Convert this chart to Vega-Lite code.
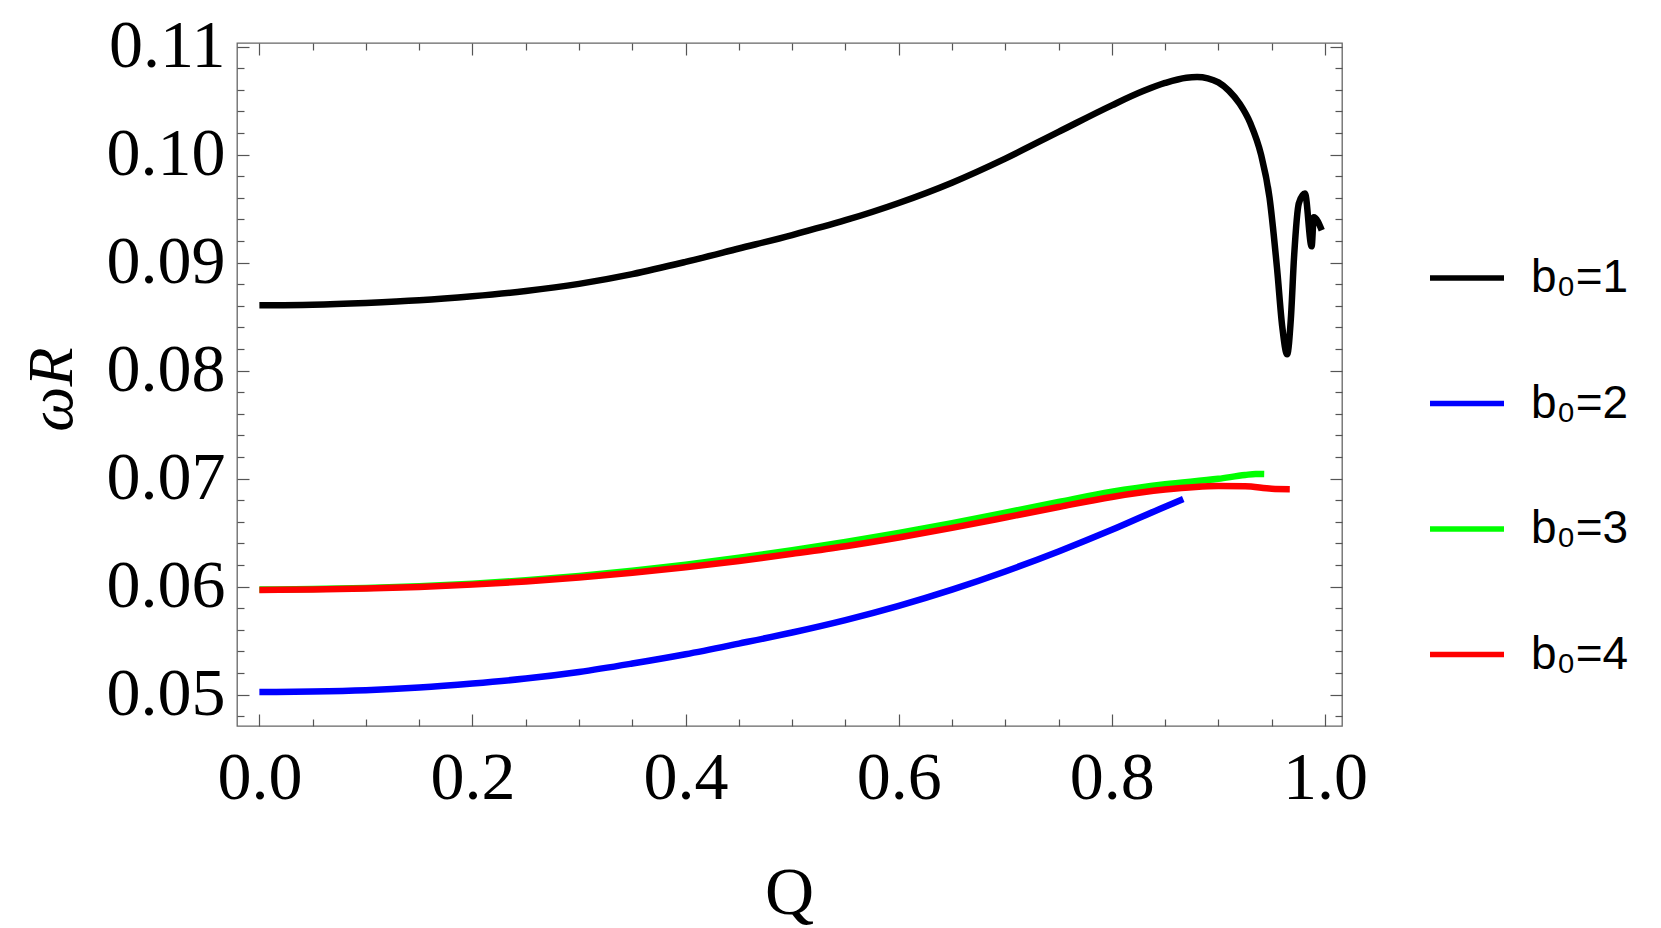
{
  "$schema": "https://vega.github.io/schema/vega-lite/v6.json",
  "width": 1105,
  "height": 683,
  "autosize": {"type": "none"},
  "padding": {"left": 237, "top": 43, "right": 319, "bottom": 202},
  "background": "white",
  "config": {"view": {"stroke": "#666666", "strokeWidth": 1.3}},
  "data": {
    "values": [
      {"series": "b₀=1", "Q": 0, "w": 0.08605},
      {"series": "b₀=1", "Q": 0.05, "w": 0.0861},
      {"series": "b₀=1", "Q": 0.1, "w": 0.08626},
      {"series": "b₀=1", "Q": 0.15, "w": 0.0865},
      {"series": "b₀=1", "Q": 0.2, "w": 0.08688},
      {"series": "b₀=1", "Q": 0.25, "w": 0.08737},
      {"series": "b₀=1", "Q": 0.3, "w": 0.08803},
      {"series": "b₀=1", "Q": 0.35, "w": 0.08893},
      {"series": "b₀=1", "Q": 0.4, "w": 0.09006},
      {"series": "b₀=1", "Q": 0.45, "w": 0.0913},
      {"series": "b₀=1", "Q": 0.5, "w": 0.09255},
      {"series": "b₀=1", "Q": 0.55, "w": 0.09392},
      {"series": "b₀=1", "Q": 0.6, "w": 0.09552},
      {"series": "b₀=1", "Q": 0.65, "w": 0.0974},
      {"series": "b₀=1", "Q": 0.7, "w": 0.09963},
      {"series": "b₀=1", "Q": 0.75, "w": 0.1021},
      {"series": "b₀=1", "Q": 0.8, "w": 0.10456},
      {"series": "b₀=1", "Q": 0.83, "w": 0.1059},
      {"series": "b₀=1", "Q": 0.85, "w": 0.10663},
      {"series": "b₀=1", "Q": 0.87, "w": 0.10712},
      {"series": "b₀=1", "Q": 0.88, "w": 0.10718},
      {"series": "b₀=1", "Q": 0.89, "w": 0.10706},
      {"series": "b₀=1", "Q": 0.9, "w": 0.10668},
      {"series": "b₀=1", "Q": 0.91, "w": 0.1059},
      {"series": "b₀=1", "Q": 0.92, "w": 0.1047},
      {"series": "b₀=1", "Q": 0.93, "w": 0.1029},
      {"series": "b₀=1", "Q": 0.94, "w": 0.1},
      {"series": "b₀=1", "Q": 0.948, "w": 0.096},
      {"series": "b₀=1", "Q": 0.955, "w": 0.0895},
      {"series": "b₀=1", "Q": 0.96, "w": 0.084},
      {"series": "b₀=1", "Q": 0.9645, "w": 0.0815},
      {"series": "b₀=1", "Q": 0.968, "w": 0.0848},
      {"series": "b₀=1", "Q": 0.971, "w": 0.0905},
      {"series": "b₀=1", "Q": 0.9755, "w": 0.0955},
      {"series": "b₀=1", "Q": 0.9812, "w": 0.0964},
      {"series": "b₀=1", "Q": 0.9875, "w": 0.0915},
      {"series": "b₀=1", "Q": 0.9895, "w": 0.0942},
      {"series": "b₀=1", "Q": 0.997, "w": 0.093},
      {"series": "b₀=2", "Q": 0, "w": 0.05024},
      {"series": "b₀=2", "Q": 0.05, "w": 0.05028},
      {"series": "b₀=2", "Q": 0.1, "w": 0.0504},
      {"series": "b₀=2", "Q": 0.15, "w": 0.05065},
      {"series": "b₀=2", "Q": 0.2, "w": 0.05102},
      {"series": "b₀=2", "Q": 0.25, "w": 0.05148},
      {"series": "b₀=2", "Q": 0.3, "w": 0.05209},
      {"series": "b₀=2", "Q": 0.35, "w": 0.05287},
      {"series": "b₀=2", "Q": 0.4, "w": 0.05373},
      {"series": "b₀=2", "Q": 0.45, "w": 0.05472},
      {"series": "b₀=2", "Q": 0.5, "w": 0.05575},
      {"series": "b₀=2", "Q": 0.55, "w": 0.0569},
      {"series": "b₀=2", "Q": 0.6, "w": 0.05822},
      {"series": "b₀=2", "Q": 0.65, "w": 0.05972},
      {"series": "b₀=2", "Q": 0.7, "w": 0.0614},
      {"series": "b₀=2", "Q": 0.75, "w": 0.06325},
      {"series": "b₀=2", "Q": 0.8, "w": 0.06525},
      {"series": "b₀=2", "Q": 0.85, "w": 0.0674},
      {"series": "b₀=2", "Q": 0.867, "w": 0.0681},
      {"series": "b₀=3", "Q": 0, "w": 0.05973},
      {"series": "b₀=3", "Q": 0.05, "w": 0.05977},
      {"series": "b₀=3", "Q": 0.1, "w": 0.05987},
      {"series": "b₀=3", "Q": 0.15, "w": 0.06004},
      {"series": "b₀=3", "Q": 0.2, "w": 0.06027},
      {"series": "b₀=3", "Q": 0.25, "w": 0.06058},
      {"series": "b₀=3", "Q": 0.3, "w": 0.06098},
      {"series": "b₀=3", "Q": 0.35, "w": 0.06147},
      {"series": "b₀=3", "Q": 0.4, "w": 0.06202},
      {"series": "b₀=3", "Q": 0.45, "w": 0.06266},
      {"series": "b₀=3", "Q": 0.5, "w": 0.06336},
      {"series": "b₀=3", "Q": 0.55, "w": 0.06413},
      {"series": "b₀=3", "Q": 0.6, "w": 0.06497},
      {"series": "b₀=3", "Q": 0.65, "w": 0.06587},
      {"series": "b₀=3", "Q": 0.7, "w": 0.06684},
      {"series": "b₀=3", "Q": 0.75, "w": 0.06783},
      {"series": "b₀=3", "Q": 0.8, "w": 0.06878},
      {"series": "b₀=3", "Q": 0.85, "w": 0.06948},
      {"series": "b₀=3", "Q": 0.9, "w": 0.06998},
      {"series": "b₀=3", "Q": 0.925, "w": 0.07033},
      {"series": "b₀=3", "Q": 0.935, "w": 0.07043},
      {"series": "b₀=3", "Q": 0.943, "w": 0.07042},
      {"series": "b₀=4", "Q": 0, "w": 0.05969},
      {"series": "b₀=4", "Q": 0.05, "w": 0.05972},
      {"series": "b₀=4", "Q": 0.1, "w": 0.05981},
      {"series": "b₀=4", "Q": 0.15, "w": 0.05997},
      {"series": "b₀=4", "Q": 0.2, "w": 0.06018},
      {"series": "b₀=4", "Q": 0.25, "w": 0.06046},
      {"series": "b₀=4", "Q": 0.3, "w": 0.06083},
      {"series": "b₀=4", "Q": 0.35, "w": 0.06128},
      {"series": "b₀=4", "Q": 0.4, "w": 0.06178},
      {"series": "b₀=4", "Q": 0.45, "w": 0.06237},
      {"series": "b₀=4", "Q": 0.5, "w": 0.06303},
      {"series": "b₀=4", "Q": 0.55, "w": 0.06373},
      {"series": "b₀=4", "Q": 0.6, "w": 0.06454},
      {"series": "b₀=4", "Q": 0.65, "w": 0.06543},
      {"series": "b₀=4", "Q": 0.7, "w": 0.06639},
      {"series": "b₀=4", "Q": 0.75, "w": 0.06737},
      {"series": "b₀=4", "Q": 0.8, "w": 0.0683},
      {"series": "b₀=4", "Q": 0.85, "w": 0.06898},
      {"series": "b₀=4", "Q": 0.9, "w": 0.06931},
      {"series": "b₀=4", "Q": 0.925, "w": 0.06929},
      {"series": "b₀=4", "Q": 0.95, "w": 0.06906},
      {"series": "b₀=4", "Q": 0.967, "w": 0.06902}
    ]
  },
  "layer": [
    {
      "mark": {"type": "line", "strokeWidth": 6.5, "strokeJoin": "miter", "strokeCap": "butt", "interpolate": "monotone", "clip": true},
      "encoding": {
        "x": {
          "field": "Q", "type": "quantitative",
          "scale": {"domain": [-0.021, 1.016], "nice": false, "zero": false},
          "axis": {
            "orient": "bottom",
            "values": [0, 0.05, 0.1, 0.15, 0.2, 0.25, 0.3, 0.35, 0.4, 0.45, 0.5, 0.55, 0.6, 0.65, 0.7, 0.75, 0.8, 0.85, 0.9, 0.95, 1.0],
            "labelExpr": "abs(datum.value*5-round(datum.value*5))<1e-6 ? format(datum.value,'.1f') : ''",
            "labelFont": "Liberation Serif", "labelFontSize": 68, "labelColor": "black",
            "labelPadding": 30, "labelOverlap": false, "labelFlush": false,
            "tickColor": "#555555", "tickWidth": 1.2,
            "tickSize": {"condition": {"test": "abs(datum.value*5-round(datum.value*5))<1e-6", "value": -12}, "value": -7},
            "domain": false, "grid": false,
            "title": "Q", "titleFont": "Liberation Serif", "titleFontSize": 68, "titleFontWeight": "normal",
            "titleColor": "black", "titleX": 552, "titleY": 187, "titleBaseline": "alphabetic", "titleAlign": "center"
          }
        },
        "y": {
          "field": "w", "type": "quantitative",
          "scale": {"domain": [0.04709, 0.11033], "nice": false, "zero": false},
          "axis": {
            "orient": "left",
            "values": [0.048, 0.05, 0.052, 0.054, 0.056, 0.058, 0.06, 0.062, 0.064, 0.066, 0.068, 0.07, 0.072, 0.074, 0.076, 0.078, 0.08, 0.082, 0.084, 0.086, 0.088, 0.09, 0.092, 0.094, 0.096, 0.098, 0.1, 0.102, 0.104, 0.106, 0.108, 0.11],
            "labelExpr": "abs(datum.value*100-round(datum.value*100))<1e-6 ? format(datum.value,'.2f') : ''",
            "labelFont": "Liberation Serif", "labelFontSize": 68, "labelColor": "black",
            "labelPadding": 24, "labelOverlap": false, "labelFlush": false,
            "tickColor": "#555555", "tickWidth": 1.2,
            "tickSize": {"condition": {"test": "abs(datum.value*100-round(datum.value*100))<1e-6", "value": -12}, "value": -7},
            "domain": false, "grid": false,
            "title": "ωR", "titleFont": "Liberation Serif", "titleFontSize": 64, "titleFontWeight": "normal",
            "titleFontStyle": "italic", "titleColor": "black",
            "titleX": -166, "titleY": 346, "titleBaseline": "alphabetic", "titleAlign": "center", "titleAngle": 270
          }
        },
        "color": {
          "field": "series", "type": "nominal",
          "scale": {"domain": ["b₀=1", "b₀=2", "b₀=3", "b₀=4"], "range": ["#000000", "#0000ff", "#00ff00", "#ff0000"]},
          "legend": {
            "orient": "none", "legendX": 1190, "legendY": 195,
            "title": null, "symbolType": "stroke", "symbolSize": 5476, "symbolStrokeWidth": 5.5,
            "labelFont": "Liberation Sans", "labelFontSize": 46, "labelColor": "black",
            "labelOffset": 24, "rowPadding": 62.5, "padding": 0, "symbolOffset": 0
          }
        }
      }
    },
    {
      "mark": {"type": "line", "strokeOpacity": 0},
      "encoding": {
        "x": {
          "field": "Q", "type": "quantitative",
          "axis": {
            "orient": "top",
            "values": [0, 0.05, 0.1, 0.15, 0.2, 0.25, 0.3, 0.35, 0.4, 0.45, 0.5, 0.55, 0.6, 0.65, 0.7, 0.75, 0.8, 0.85, 0.9, 0.95, 1.0],
            "labels": false, "title": null, "domain": false, "grid": false,
            "tickColor": "#555555", "tickWidth": 1.2,
            "tickSize": {"condition": {"test": "abs(datum.value*5-round(datum.value*5))<1e-6", "value": -12}, "value": -7}
          }
        },
        "y": {
          "field": "w", "type": "quantitative",
          "axis": {
            "orient": "right",
            "values": [0.048, 0.05, 0.052, 0.054, 0.056, 0.058, 0.06, 0.062, 0.064, 0.066, 0.068, 0.07, 0.072, 0.074, 0.076, 0.078, 0.08, 0.082, 0.084, 0.086, 0.088, 0.09, 0.092, 0.094, 0.096, 0.098, 0.1, 0.102, 0.104, 0.106, 0.108, 0.11],
            "labels": false, "title": null, "domain": false, "grid": false,
            "tickColor": "#555555", "tickWidth": 1.2,
            "tickSize": {"condition": {"test": "abs(datum.value*100-round(datum.value*100))<1e-6", "value": -12}, "value": -7}
          }
        },
        "detail": {"field": "series"}
      }
    }
  ],
  "resolve": {"axis": {"x": "independent", "y": "independent"}}
}
